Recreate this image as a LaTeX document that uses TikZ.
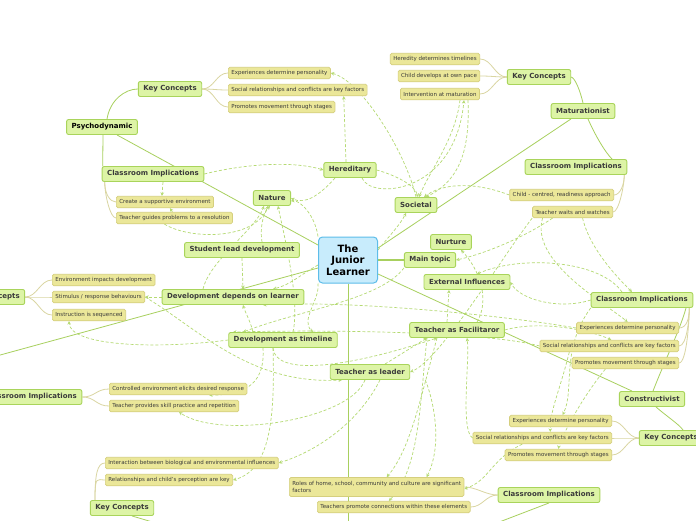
\documentclass[tikz,border=0pt]{standalone}
\usepackage{fontspec}
\setmainfont{DejaVu Sans}
\usetikzlibrary{arrows.meta,backgrounds}
\definecolor{gfill}{HTML}{DDF4A6}
\definecolor{gdraw}{HTML}{A9D45B}
\definecolor{yfill}{HTML}{EBE799}
\definecolor{ydraw}{HTML}{D5CF7E}
\definecolor{bfill}{HTML}{C8ECFC}
\definecolor{bdraw}{HTML}{5DBDE9}
\definecolor{lnk}{HTML}{A8D05E}
\definecolor{blnk}{HTML}{DAD6A2}
\definecolor{dsh}{HTML}{B5DA72}
\definecolor{txt}{HTML}{3A3A3A}
\tikzset{
 topic/.style={draw=gdraw, fill=gfill, rounded corners=2pt, line width=0.9pt, font=\fontsize{7}{8}\selectfont\bfseries, text=txt, inner xsep=5pt, inner ysep=0pt, minimum height=15pt},
 item/.style={draw=ydraw, fill=yfill, rounded corners=1.5pt, line width=0.7pt, font=\fontsize{5.5}{6.6}\selectfont, text=txt, inner xsep=3pt, inner ysep=0pt, minimum height=11.5pt},
 centre/.style={draw=bdraw, fill=bfill, rounded corners=4pt, line width=1pt, font=\fontsize{10}{11.5}\selectfont\bfseries, align=center, minimum width=59pt, minimum height=46pt, inner sep=1pt},
 trunk/.style={draw=lnk, line width=0.8pt},
 twig/.style={draw=blnk, line width=0.8pt},
 rel/.style={draw=dsh, line width=0.7pt, dash pattern=on 3pt off 2pt, -{Stealth[length=3.5pt,width=3.5pt]}},
}
\begin{document}
\begin{tikzpicture}[x=1pt,y=-1pt]
\useasboundingbox (0,0) rectangle (696,520);
\node[centre] (jl) at (348,260) {The\\Junior\\Learner};
% Psychodynamic
\node[topic,text=black] (psy) at (102,127) {Psychodynamic};
\node[topic] (kcA) at (170,89) {Key Concepts};
\node[topic] (ciA) at (153,174) {Classroom Implications};
\node[item,anchor=west] (iA1) at (228,73) {Experiences determine personality};
\node[item,anchor=west] (iA2) at (228,90) {Social relationships and conflicts are key factors};
\node[item,anchor=west] (iA3) at (228,107) {Promotes movement through stages};
\node[item,anchor=west] (iA4) at (116,202) {Create a supportive environment};
\node[item,anchor=west] (iA5) at (116,218) {Teacher guides problems to a resolution};
% Maturationist
\node[topic] (mat) at (583,111) {Maturationist};
\node[topic] (kcB) at (539,77) {Key Concepts};
\node[topic] (ciB) at (576,167) {Classroom Implications};
\node[item] (iB1) at (435,59) {Heredity determines timelines};
\node[item] (iB2) at (439,76) {Child develops at own pace};
\node[item] (iB3) at (440,94) {Intervention at maturation};
\node[item,anchor=east] (iB4) at (614,195) {Child - centred, readiness approach};
\node[item,anchor=east] (iB5) at (613,212) {Teacher waits and watches};
% floating topics
\node[topic] (her) at (350,170) {Hereditary};
\node[topic] (nat) at (272,198) {Nature};
\node[topic] (soc) at (416,205) {Societal};
\node[topic] (sld) at (242,250) {Student lead development};
\node[topic] (nur) at (451,242) {Nurture};
\node[topic] (mtp) at (430,260) {Main topic};
\node[topic] (ext) at (467,282) {External Influences};
\node[topic] (ddl) at (233,297) {Development depends on learner};
\node[topic] (taf) at (457,330) {Teacher as Facilitaror};
\node[topic] (dat) at (283,340) {Development as timeline};
\node[topic] (tal) at (370,372) {Teacher as leader};
% Behaviourist (off the page)
\coordinate (beh) at (-40,366);
\node[topic] (kcC) at (-7,297) {Key Concepts};
\node[item,anchor=west] (iC1) at (52,280) {Environment impacts development};
\node[item,anchor=west] (iC2) at (52,297) {Stimulus / response behaviours};
\node[item,anchor=west] (iC3) at (52,315) {Instruction is sequenced};
\node[topic] (ciC) at (31,397) {Classroom Implications};
\node[item,anchor=west] (iC4) at (109,389) {Controlled environment elicits desired response};
\node[item,anchor=west] (iC5) at (109,406) {Teacher provides skill practice and repetition};
% Constructivist
\node[topic] (con) at (652,399) {Constructivist};
\node[topic] (ciD) at (642,300) {Classroom Implications};
\node[item,anchor=east] (iD1) at (679,328) {Experiences determine personality};
\node[item,anchor=east] (iD2) at (679,346) {Social relationships and conflicts are key factors};
\node[item,anchor=east] (iD3) at (679,363) {Promotes movement through stages};
\node[topic] (kcD) at (671,438) {Key Concepts};
\node[item,anchor=east] (iD4) at (612,421) {Experiences determine personality};
\node[item,anchor=east] (iD5) at (612,438) {Social relationships and conflicts are key factors};
\node[item,anchor=east] (iD6) at (612,455) {Promotes movement through stages};
% bottom branch (off the page)
\coordinate (eco) at (348,580);
\node[topic] (kcE) at (122,508) {Key Concepts};
\node[item,anchor=west] (iE1) at (105,463) {Interaction between biological and environmental influences};
\node[item,anchor=west] (iE2) at (105,480) {Relationships and child's perception are key};
\node[topic] (ciE) at (549,495) {Classroom Implications};
\node[item,anchor=west,align=left,minimum height=19pt] (iE3) at (289,487) {Roles of home, school, community and culture are significant\\factors};
\node[item,anchor=west] (iE4) at (317,507) {Teachers promote connections within these elements};

\begin{scope}[on background layer]
\fill[white] (0,0) rectangle (696,520);
% main branches
\draw[trunk] ([yshift=15pt]jl.west) -- ([xshift=15pt]psy.south);
\draw[trunk] ([yshift=12pt]jl.east) -- ([xshift=-12pt]mat.south);
\draw[trunk,line width=1.6pt] (jl.east) -- (mtp.west);
\draw[trunk] ([yshift=-14pt]jl.east) -- ([xshift=-20pt]con.north);
\draw[trunk] ([yshift=-8pt]jl.west) -- (beh);
\draw[trunk] (jl.south) -- (eco);
% Psychodynamic
\draw[trunk] ([xshift=5pt]psy.north) .. controls (110,100) and (125,89) .. (kcA.west);
\draw[trunk] ([xshift=1pt]psy.south) -- ([xshift=1pt]ciA.north west);
\foreach \t in {iA1,iA2,iA3} \draw[twig] (kcA.east) .. controls +(12,0) and +(-12,0) .. (\t.west);
\foreach \t in {iA4,iA5} \draw[twig] ([xshift=3pt]ciA.south west) .. controls +(0,12) and +(-6,0) .. (\t.west);
% Maturationist
\draw[trunk] (mat.north) .. controls (580,90) and (575,78) .. (kcB.east);
\draw[trunk] ([xshift=5pt]mat.south) .. controls (595,135) and (605,152) .. ([xshift=36pt]ciB.north);
\foreach \t in {iB1,iB2,iB3} \draw[twig] (kcB.west) .. controls +(-12,0) and +(12,0) .. (\t.east);
\foreach \t in {iB4,iB5} \draw[twig] ([xshift=-3pt]ciB.south east) .. controls +(0,10) and +(6,0) .. (\t.east);
% Constructivist
\draw[trunk] ([xshift=1pt]con.north) .. controls (665,360) and (680,330) .. ([xshift=44pt]ciD.south);
\draw[trunk] ([xshift=4pt]con.south) .. controls (665,415) and (680,425) .. ([xshift=12pt]kcD.north);
\foreach \t in {iD1,iD2,iD3} \draw[twig] ([xshift=-4pt]ciD.south east) .. controls +(0,10) and +(8,0) .. (\t.east);
\foreach \t in {iD4,iD5,iD6} \draw[twig] (kcD.west) .. controls +(-12,0) and +(12,0) .. (\t.east);
% Behaviourist
\foreach \t in {iC1,iC2,iC3} \draw[twig] (kcC.east) .. controls +(12,0) and +(-12,0) .. (\t.west);
\foreach \t in {iC4,iC5} \draw[twig] (ciC.east) .. controls +(13,0) and +(-13,0) .. (\t.west);
% bottom branch
\foreach \t in {iE1,iE2} \draw[twig] ([xshift=-27pt]kcE.north) .. controls +(0,-25) and +(-8,0) .. (\t.west);
\draw[trunk] (eco) -- ([xshift=10pt]kcE.south);
\draw[trunk] (eco) -- (ciE.south);
\foreach \t in {iE3,iE4} \draw[twig] (ciE.west) .. controls +(-12,0) and +(12,0) .. (\t.east);
% relationships
\draw[rel] (soc.north) .. controls (405,150) and (360,80) .. (iA1.east);
\draw[rel] ([xshift=-4pt]her.north) -- ([xshift=46pt]iA2.south);
\draw[rel] (her.east) .. controls (395,175) and (415,185) .. ([xshift=2pt]soc.north);
\draw[rel] ([xshift=-15pt]her.south) .. controls (320,195) and (305,205) .. (nat.east);
\draw[rel] ([xshift=12pt]her.south) .. controls (370,200) and (455,195) .. ([xshift=24pt]iB3.south);
\draw[rel] (ciA.east) .. controls (240,165) and (290,160) .. (her.west);
\draw[rel] ([xshift=20pt]iB3.south) .. controls (455,140) and (430,170) .. ([xshift=3pt]soc.north);
\draw[rel] ([xshift=28pt]iB3.south) .. controls (470,150) and (460,180) .. ([xshift=10pt]soc.north);
\draw[rel] (iB4.west) .. controls (470,180) and (440,185) .. ([xshift=8pt]soc.north);
\draw[rel] ([xshift=10pt]ciA.south) -- ([xshift=-3pt]iA4.north);
\draw[rel] ([xshift=-2pt]iA5.north) -- ([xshift=5pt]iA4.south);
\draw[rel] ([xshift=-10pt]iA5.south) .. controls (190,240) and (255,240) .. ([xshift=-4pt]nat.south);
\draw[rel] ([xshift=20pt]sld.north) .. controls (260,230) and (262,215) .. ([xshift=-2pt]nat.south);
\draw[rel] ([xshift=-30pt]ddl.north) .. controls (210,260) and (255,230) .. ([xshift=-8pt]nat.south);
\draw[rel] ([xshift=10pt]dat.north) .. controls (300,300) and (285,240) .. ([xshift=6pt]nat.south);
\draw[rel] (jl.north west) .. controls (315,215) and (300,200) .. ([yshift=-3pt]nat.east);
\draw[rel] ([xshift=-20pt]iB5.south) .. controls (520,240) and (480,255) .. (mtp.east);
\draw[rel] ([xshift=-20pt]ciD.north) .. controls (600,260) and (520,255) .. ([xshift=10pt]ext.north);
\draw[rel] ([xshift=-10pt]taf.north) -- ([xshift=-18pt]ext.south);
\draw[rel] ([xshift=20pt]taf.north) .. controls (490,300) and (480,270) .. ([xshift=10pt]nur.south);
\draw[rel] ([xshift=-10pt]dat.south) .. controls (275,375) and (340,370) .. ([xshift=-20pt]taf.south);
\draw[rel] (iC2.east) .. controls (200,330) and (250,385) .. ([xshift=-28pt]tal.south);
\draw[rel] ([xshift=15pt]tal.north) -- ([xshift=-30pt]taf.south);
\draw[rel] ([xshift=-20pt]taf.south) .. controls (420,400) and (410,450) .. ([xshift=10pt]iE3.north);
\draw[rel] ([xshift=15pt]tal.south east) .. controls (430,390) and (445,440) .. ([xshift=50pt]iE3.north);
\draw[rel] ([xshift=10pt]tal.south) .. controls (360,420) and (320,450) .. (iE1.east);
\draw[rel] ([xshift=-5pt]tal.south) .. controls (350,420) and (220,440) .. ([xshift=5pt]iC5.south);
\draw[rel] ([xshift=-20pt]dat.south) .. controls (265,380) and (250,395) .. ([xshift=31pt]iC4.south);
\draw[rel] ([xshift=-10pt]dat.south) .. controls (275,420) and (270,470) .. (iE2.east);
\draw[rel] (ddl.west) -- (iC2.east);
\draw[rel] (dat.west) .. controls (150,350) and (70,345) .. ([xshift=-20pt]iC3.south);
\draw[rel] (sld.south) -- ([xshift=10pt]ddl.north);
\draw[rel] ([yshift=-5pt]jl.west) .. controls (300,275) and (290,285) .. ([xshift=40pt]ddl.north);
\draw[rel] ([xshift=-30pt]dat.north) .. controls (250,320) and (245,312) .. ([xshift=10pt]ddl.south);
\draw[rel] (jl.south west) .. controls (320,300) and (300,320) .. ([xshift=30pt]dat.north);
\draw[rel] (mtp.south west) .. controls (380,300) and (300,310) .. ([xshift=-40pt]dat.north);
\draw[rel] ([yshift=10pt]jl.east) .. controls (390,235) and (400,225) .. ([xshift=-10pt]soc.south);
\draw[rel] ([xshift=10pt]iB5.south) .. controls (590,250) and (620,280) .. ([xshift=-10pt]ciD.north);
\draw[rel] ([xshift=-30pt]iB5.south) .. controls (530,260) and (600,300) .. (iD1.north);
\draw[rel] (iB5.south west) .. controls (500,260) and (440,360) .. (tal.east);
\draw[rel] (taf.east) .. controls (540,320) and (590,330) .. ([xshift=2pt]iD2.north);
\draw[rel] (ciD.south west) .. controls (560,350) and (575,390) .. ([xshift=2pt]iD4.north);
\draw[rel] ([xshift=-40pt]iD2.south) .. controls (560,390) and (550,410) .. ([xshift=8pt]iD5.north);
\draw[rel] ([xshift=-20pt]iD3.south) .. controls (580,400) and (560,440) .. (iD6.north);
\draw[rel] (iD5.west) .. controls (460,430) and (470,360) .. ([xshift=10pt]taf.south);
\draw[rel] (ciD.west) .. controls (560,310) and (520,300) .. (ext.east);
\draw[rel] ([xshift=-20pt]iD5.south) .. controls (490,460) and (490,480) .. ([yshift=-2pt]iE3.east);
\draw[rel] ([xshift=-30pt]taf.south) .. controls (420,400) and (420,470) .. ([xshift=-5pt]iE4.north);
\draw[rel] (iD1.west) .. controls (500,315) and (350,300) .. ([xshift=30pt]ddl.south);
\draw[rel] (iD2.west) .. controls (480,330) and (300,330) .. ([xshift=-50pt]dat.north);
\end{scope}
\end{tikzpicture}
\end{document}
